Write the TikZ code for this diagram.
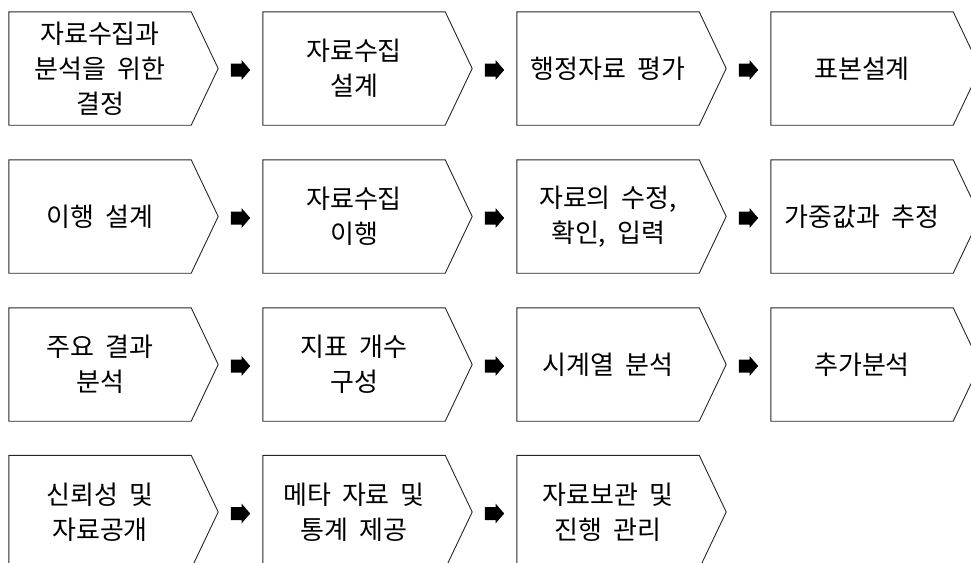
\documentclass[tikz,border=0pt]{standalone}
\usepackage{fontspec}
\setmainfont{Noto Sans CJK KR}
\usetikzlibrary{calc}
\newcommand\myboxfont{\fontsize{26}{35}\selectfont\spaceskip=0.42em\relax}
\begin{document}
\begin{tikzpicture}[x=1pt,y=-1pt,
  box/.style={minimum width=182pt,minimum height=113pt,inner sep=0pt,align=center,
    font=\myboxfont},
  chev/.style={draw=black!85,line width=0.9pt,line join=miter},
  arr/.style={minimum width=19pt,minimum height=20pt,inner sep=0pt}]
\useasboundingbox (0,0) rectangle (971,562);
% row 1
\node[box] (b11) at (100,68.5) {자료수집과\\분석을 위한\\결정};
\node[box] (b12) at (354,68.5) {자료수집\\설계};
\node[box] (b13) at (608,68.5) {행정자료 평가};
\node[box] (b14) at (862,68.5) {표본설계};
% row 2
\node[box] (b21) at (100,216.5) {이행 설계};
\node[box] (b22) at (354,216.5) {자료수집\\이행};
\node[box] (b23) at (608,216.5) {자료의 수정,\\확인, 입력};
\node[box] (b24) at (862,216.5) {가중값과 추정};
% row 3
\node[box] (b31) at (100,364.5) {주요 결과\\분석};
\node[box] (b32) at (354,364.5) {지표 개수\\구성};
\node[box] (b33) at (608,364.5) {시계열 분석};
\node[box] (b34) at (862,364.5) {추가분석};
% row 4
\node[box] (b41) at (100,512) {신뢰성 및\\자료공개};
\node[box] (b42) at (354,512) {메타 자료 및\\통계 제공};
\node[box] (b43) at (608,512) {자료보관 및\\진행 관리};
\foreach \n in {b11,b12,b13,b14,b21,b22,b23,b24,b31,b32,b33,b34,b41,b42,b43}
  \draw[chev] (\n.north west) -- (\n.north east) -- ($(\n.east)+(27,0)$) -- (\n.south east) -- (\n.south west) -- cycle;
% arrows
\foreach \r/\y in {1/70,2/218,3/366} {
  \node[arr] (a\r1) at (240.5,\y) {};
  \node[arr] (a\r2) at (494.5,\y) {};
  \node[arr] (a\r3) at (748.5,\y) {};
}
\node[arr] (a41) at (240.5,513.5) {};
\node[arr] (a42) at (494.5,513.5) {};
\foreach \a in {a11,a12,a13,a21,a22,a23,a31,a32,a33,a41,a42}
  \fill[black] ($(\a.west)+(0,-6.5)$) -- ($(\a.center)+(1,-6.5)$) -- ($(\a.center)+(1,-10)$)
    -- (\a.east) -- ($(\a.center)+(1,10)$) -- ($(\a.center)+(1,6.5)$) -- ($(\a.west)+(0,6.5)$) -- cycle;
\end{tikzpicture}
\end{document}
